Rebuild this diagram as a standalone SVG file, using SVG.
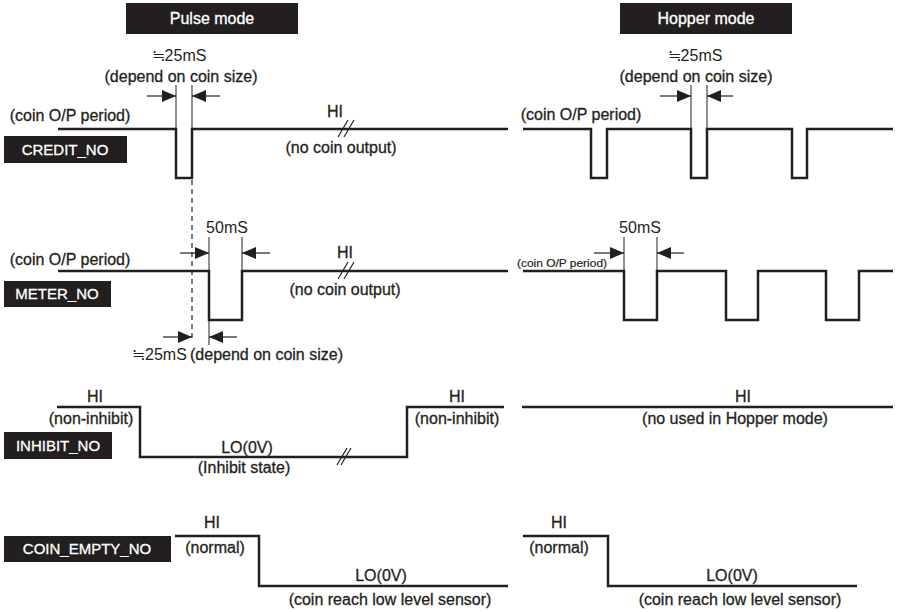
<svg xmlns="http://www.w3.org/2000/svg" width="897" height="612" viewBox="0 0 897 612">
<defs>
<marker id="ah" viewBox="0 0 14 12" refX="14" refY="6" markerWidth="14" markerHeight="12" markerUnits="userSpaceOnUse" orient="auto">
<path d="M0,0 L14,6 L0,12 Z" fill="#231f20"/>
</marker>
<style>
.bg{fill:#fff}
.box{fill:#231f20}
.bt{font-family:"Liberation Sans",Arial,sans-serif;font-size:15px;fill:#fff;stroke:#fff;stroke-width:0.3;text-anchor:middle}
.tt{font-family:"Liberation Sans",Arial,sans-serif;font-size:16px;fill:#fff;stroke:#fff;stroke-width:0.3;text-anchor:middle}
.t{font-family:"Liberation Sans",Arial,sans-serif;font-size:16px;fill:#231f20;stroke:#231f20;stroke-width:0.3;text-anchor:middle}
.a{font-family:"Liberation Sans",Arial,sans-serif;font-size:16px;fill:#231f20;text-anchor:middle}
.s{text-anchor:start}
.sig{fill:none;stroke:#231f20;stroke-width:2.5;stroke-linejoin:miter}
.ext{stroke:#231f20;stroke-width:1}
.arr{stroke:#231f20;stroke-width:1.2;marker-end:url(#ah)}
.dash{stroke:#231f20;stroke-width:1.2;stroke-dasharray:5,4}
.brk{stroke:#231f20;stroke-width:1.2}
</style>
</defs>
<rect class="bg" width="897" height="612"/>

<g id="pulse-mode-title"><rect class="box" x="126" y="3" width="172" height="31"/><text class="tt" x="212" y="24">Pulse mode</text></g>
<g id="hopper-mode-title"><rect class="box" x="620" y="3" width="172" height="31"/><text class="tt" x="706" y="24">Hopper mode</text></g>

<g id="credit-label"><rect class="box" x="4" y="136" width="123" height="27"/><text class="bt" x="65" y="155">CREDIT_NO</text></g>
<g id="meter-label"><rect class="box" x="4" y="281" width="107" height="26"/><text class="bt" x="57" y="299">METER_NO</text></g>
<g id="inhibit-label"><rect class="box" x="4" y="432" width="108" height="27"/><text class="bt" x="58" y="451">INHIBIT_NO</text></g>
<g id="coinempty-label"><rect class="box" x="4" y="536" width="167" height="26"/><text class="bt" x="87" y="554">COIN_EMPTY_NO</text></g>

<g id="connectors">
<path class="sig" d="M58,129 H176 V178 H192 V129 H508"/>
<line class="brk" x1="338" y1="137" x2="348" y2="120"/><line class="brk" x1="344" y1="137" x2="354" y2="120"/>
<line class="ext" x1="176" y1="85" x2="176" y2="128"/><line class="ext" x1="192" y1="85" x2="192" y2="128"/>
<line class="arr" x1="147" y1="96" x2="176" y2="96"/><line class="arr" x1="220" y1="96" x2="192" y2="96"/>
<line class="dash" x1="192" y1="180" x2="192" y2="340"/>
<path class="sig" d="M523,129 H591 V178 H607 V129 H691 V178 H707 V129 H792 V178 H807 V129 H893"/>
<line class="ext" x1="691" y1="85" x2="691" y2="128"/><line class="ext" x1="707" y1="85" x2="707" y2="128"/>
<line class="arr" x1="660" y1="96" x2="691" y2="96"/><line class="arr" x1="733" y1="96" x2="707" y2="96"/>
<path class="sig" d="M58,271 H209 V320 H242 V271 H508"/>
<line class="brk" x1="338" y1="279" x2="348" y2="262"/><line class="brk" x1="344" y1="279" x2="354" y2="262"/>
<line class="ext" x1="209" y1="237" x2="209" y2="270"/><line class="ext" x1="242" y1="237" x2="242" y2="270"/>
<line class="arr" x1="180" y1="253" x2="209" y2="253"/><line class="arr" x1="270" y1="253" x2="242" y2="253"/>
<line class="ext" x1="209" y1="321" x2="209" y2="345"/>
<line class="arr" x1="163" y1="337" x2="192" y2="337"/><line class="arr" x1="237" y1="337" x2="209" y2="337"/>
<path class="sig" d="M523,271 H624 V320 H657 V271 H726 V320 H758 V271 H826 V320 H859 V271 H893"/>
<line class="ext" x1="624" y1="237" x2="624" y2="270"/><line class="ext" x1="657" y1="237" x2="657" y2="270"/>
<line class="arr" x1="594" y1="253" x2="624" y2="253"/><line class="arr" x1="684" y1="253" x2="657" y2="253"/>
<path class="sig" d="M57,407 H140 V457 H407 V407 H504"/>
<line class="brk" x1="337" y1="465" x2="347" y2="448"/><line class="brk" x1="341" y1="465" x2="351" y2="448"/>
<path class="sig" d="M522,407 H893"/>
<path class="sig" d="M175,536 H259 V586 H508"/>
<path class="sig" d="M523,536 H608 V586 H857"/>
</g>

<g id="credit-texts">
<text class="a" x="179" y="61">≒25mS</text>
<text class="t" x="181" y="82">(depend on coin size)</text>
<text class="t" x="70" y="121">(coin O/P period)</text>
<text class="t" x="335" y="117">HI</text>
<text class="t" x="341" y="153">(no coin output)</text>
<text class="a" x="695" y="61">≒25mS</text>
<text class="t" x="696" y="82">(depend on coin size)</text>
<text class="t" x="581" y="120">(coin O/P period)</text>
</g>
<g id="meter-texts">
<text class="a" x="227" y="233">50mS</text>
<text class="t" x="70" y="265">(coin O/P period)</text>
<text class="t" x="345" y="258">HI</text>
<text class="t" x="345" y="295">(no coin output)</text>
<text class="a s" x="132" y="360">≒25mS</text>
<text class="t s" x="190" y="360">(depend on coin size)</text>
<text class="a" x="640" y="233">50mS</text>
<text class="t s" x="517" y="267" style="font-size:11px;stroke-width:0.2" textLength="90" lengthAdjust="spacingAndGlyphs">(coin O/P period)</text>
</g>
<g id="inhibit-texts">
<text class="t" x="95" y="402">HI</text>
<text class="t" x="91" y="424">(non-inhibit)</text>
<text class="t" x="247" y="453">LO(0V)</text>
<text class="t" x="244" y="473">(Inhibit state)</text>
<text class="t" x="457" y="402">HI</text>
<text class="t" x="457" y="424">(non-inhibit)</text>
<text class="t" x="743" y="402">HI</text>
<text class="t" x="735" y="424">(no used in Hopper mode)</text>
</g>
<g id="coinempty-texts">
<text class="t" x="212" y="528">HI</text>
<text class="t" x="215" y="553">(normal)</text>
<text class="t" x="381" y="581">LO(0V)</text>
<text class="t" x="390" y="605">(coin reach low level sensor)</text>
<text class="t" x="559" y="528">HI</text>
<text class="t" x="559" y="553">(normal)</text>
<text class="t" x="732" y="581">LO(0V)</text>
<text class="t" x="740" y="605">(coin reach low level sensor)</text>
</g>
</svg>
